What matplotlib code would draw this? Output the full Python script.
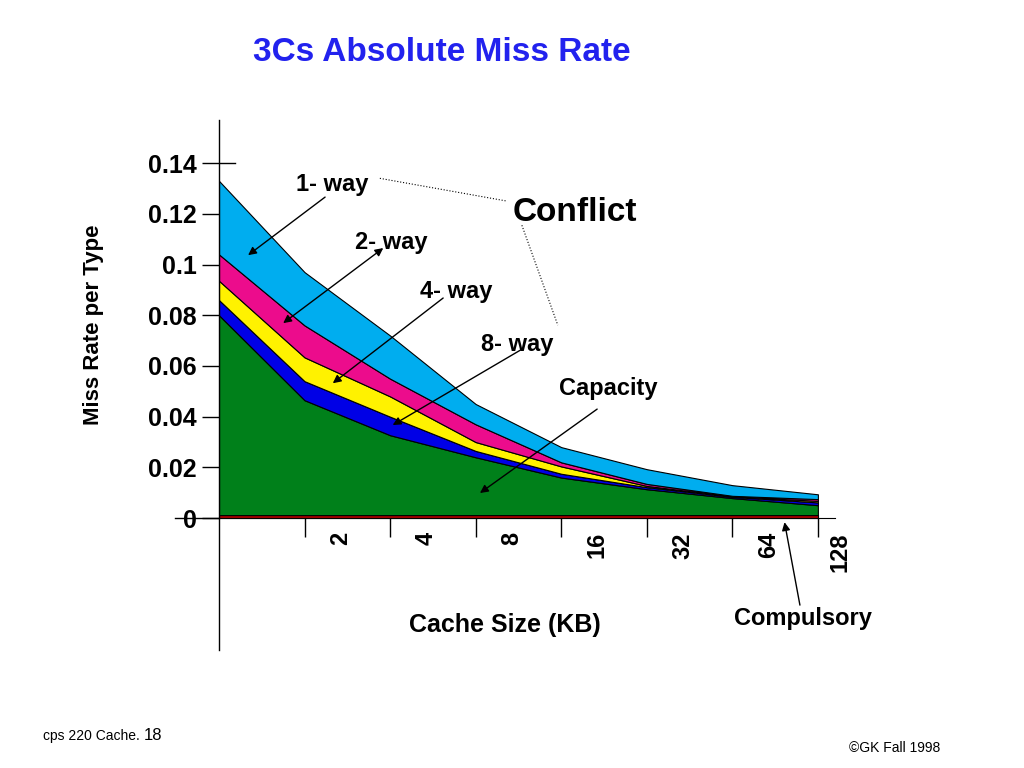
import matplotlib
matplotlib.use("Agg")
import matplotlib.pyplot as plt

plt.rcParams["font.family"] = ["Liberation Sans", "DejaVu Sans"]

# cache sizes (KB) and miss rates
sizes = ["1", "2", "4", "8", "16", "32", "64", "128"]
miss_1way = [0.133, 0.097, 0.072, 0.045, 0.028, 0.0193, 0.013, 0.0094]
miss_2way = [0.104, 0.076, 0.055, 0.037, 0.022, 0.0135, 0.0088, 0.0075]
miss_4way = [0.0936, 0.0634, 0.048, 0.030, 0.0204, 0.0127, 0.0086, 0.0068]
miss_8way = [0.086, 0.054, 0.040, 0.0265, 0.0175, 0.0122, 0.0084, 0.0062]
miss_capacity = [0.080, 0.0465, 0.0327, 0.024, 0.016, 0.0114, 0.0079, 0.0051]
miss_compulsory = [0.0012, 0.0012, 0.0012, 0.0012, 0.0012, 0.0012, 0.0012, 0.0012]
yticks = [0, 0.02, 0.04, 0.06, 0.08, 0.1, 0.12, 0.14]
ytick_labels = ["0", "0.02", "0.04", "0.06", "0.08", "0.1", "0.12", "0.14"]

x = list(range(len(sizes)))
zero = [0] * len(sizes)

fig = plt.figure(figsize=(10.24, 7.68), dpi=100)
ax = fig.add_axes([219 / 1024, 118 / 768, 616 / 1024, 530 / 768])
ax.set_xlim(0, 7.2)
ax.set_ylim(-0.052, 0.157)

layers = [
    (zero, miss_compulsory, "#b00000"),
    (miss_compulsory, miss_capacity, "#00801a"),
    (miss_capacity, miss_8way, "#0000e6"),
    (miss_8way, miss_4way, "#fff200"),
    (miss_4way, miss_2way, "#ec0c8c"),
    (miss_2way, miss_1way, "#00adef"),
]
for lo, hi, c in layers:
    ax.fill_between(x, lo, hi, facecolor=c, edgecolor="black", linewidth=0.8)

# axes look like the old slide
for s in ["top", "right"]:
    ax.spines[s].set_visible(False)
ax.spines["bottom"].set_position(("data", 0))
ax.spines["left"].set_linewidth(1)
ax.plot([-0.51, 0], [0, 0], color="black", lw=1, clip_on=False)
ax.axhline(0.14, xmin=0, xmax=16 / 616, color="black", lw=1)

ax.set_yticks(yticks)
ax.set_yticklabels(ytick_labels, fontsize=18, fontweight="bold")
ax.tick_params(axis="y", direction="out", length=12, width=1, pad=4)
ax.set_xticks(x[1:])
ax.set_xticklabels([])
ax.tick_params(axis="x", direction="out", length=14, width=1)
for i in x[1:]:
    off = 0.42 if i < 7 else 0.26
    ax.text(i + off, -0.0055, sizes[i], rotation=90, ha="center", va="top",
            fontsize=17, fontweight="bold")

# labels and arrows
txt = dict(fontsize=17, fontweight="bold", ha="center", va="center")
ax.text(1.32, 0.1317, "1- way", **txt)
ax.text(2.01, 0.1088, "2- way", **txt)
ax.text(2.77, 0.0895, "4- way", **txt)
ax.text(3.49, 0.0686, "8- way", **txt)
ax.text(4.55, 0.0513, "Capacity", **txt)
ax.text(6.82, -0.0394, "Compulsory", **txt)
ax.text(4.16, 0.1207, "Conflict", fontsize=24, fontweight="bold", ha="center", va="center")

arr = dict(arrowstyle="-|>", color="black", lw=1, mutation_scale=12, shrinkA=0, shrinkB=0)
ax.annotate("", xy=(0.34, 0.1037), xytext=(1.24, 0.1266), arrowprops=arr, annotation_clip=False)
ax.annotate("", xy=(0.75, 0.0769), xytext=(1.92, 0.1065),
            arrowprops=dict(arr, arrowstyle="<|-|>"), annotation_clip=False)
ax.annotate("", xy=(1.33, 0.0532), xytext=(2.62, 0.0868), arrowprops=arr, annotation_clip=False)
ax.annotate("", xy=(2.03, 0.0367), xytext=(3.52, 0.0662), arrowprops=arr, annotation_clip=False)
ax.annotate("", xy=(3.05, 0.0099), xytext=(4.42, 0.0430), arrowprops=arr, annotation_clip=False)
ax.annotate("", xy=(6.61, -0.0016), xytext=(6.79, -0.0343), arrowprops=arr, annotation_clip=False)

ax.plot([1.88, 3.37], [0.134, 0.125], color="black", lw=0.8, ls=":", clip_on=False)
ax.plot([3.54, 3.96], [0.1155, 0.0761], color="black", lw=0.8, ls=":", clip_on=False)

fig.text(0.431, 0.932, "3Cs Absolute Miss Rate", color="#2222ee", fontsize=24,
         fontweight="bold", ha="center", va="center")
fig.text(0.091, 0.577, "Miss Rate per Type", rotation=90, fontsize=16,
         fontweight="bold", ha="center", va="center")
fig.text(0.493, 0.186, "Cache Size (KB)", fontsize=18, fontweight="bold",
         ha="center", va="center")

fig.text(43 / 1024, 1 - 740 / 768, "cps 220 Cache.", fontsize=10,
         ha="left", va="baseline")
fig.text(144 / 1024, 1 - 740 / 768, "18", fontsize=12,
         ha="left", va="baseline")
fig.text(940 / 1024, 1 - 752 / 768, "\u00a9GK Fall 1998", fontsize=10,
         ha="right", va="baseline")

plt.savefig("out.png", dpi=100)
